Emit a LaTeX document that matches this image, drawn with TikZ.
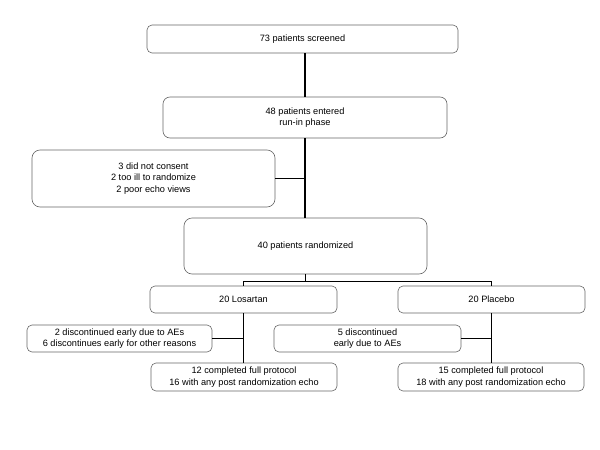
\documentclass[tikz,border=0pt]{standalone}
\usepackage{fontspec}
\setmainfont{Liberation Sans}
\usepackage{xcolor}
\usetikzlibrary{positioning,calc}

\begin{document}
\begin{tikzpicture}[x=1pt, y=-1pt,
    stage/.style={rectangle, rounded corners=5pt, draw=black!60, line width=0.6pt, align=center, inner sep=0pt, font=\fontsize{9.2}{11.3}\selectfont},
    flow/.style={draw=black, line width=1.3pt}]

    \useasboundingbox (0,0) rectangle (600,450);

    % Nodes
    \node[stage, minimum width=311pt, minimum height=28pt] (screened) at (302.5,39) {73 patients screened};
    \node[stage, rounded corners=7pt, minimum width=284pt, minimum height=41pt] (runin) at (305,117.5) {48 patients entered\\run-in phase};
    \node[stage, rounded corners=8pt, minimum width=243pt, minimum height=57pt] (excluded) at (153.5,178.5) {3 did not consent\\2 too ill to randomize\\2 poor echo views};
    \node[stage, rounded corners=8pt, minimum width=243pt, minimum height=56pt] (randomized) at (305.5,246) {40 patients randomized};
    \node[stage, minimum width=187pt, minimum height=27pt] (losartan) at (243.5,299.5) {20 Losartan};
    \node[stage, minimum width=187pt, minimum height=27pt] (placebo) at (491.5,299.5) {20 Placebo};
    \node[stage, minimum width=185pt, minimum height=27pt] (losdrop) at (119.5,338.5) {2 discontinued early due to AEs\\6 discontinues early for other reasons};
    \node[stage, minimum width=187pt, minimum height=27pt] (pladrop) at (367.5,338.5) {5 discontinued\\early due to AEs};
    \node[stage, minimum width=186pt, minimum height=28pt] (losdone) at (244,377) {12 completed full protocol\\16 with any post randomization echo};
    \node[stage, minimum width=186pt, minimum height=28pt] (pladone) at (491,377) {15 completed full protocol\\18 with any post randomization echo};

    % Connections
    \draw[flow] (runin.north) -- (runin.north |- screened.south);
    \draw[flow] (runin.south) -- (runin.south |- randomized.north);
    \draw[flow] (excluded.east) -- (excluded.east -| runin.south);
    \coordinate (split) at ($(randomized.south)+(0,7)$);
    \draw[flow] (randomized.south) -- (split);
    \draw[flow] (losartan.north) |- (split) -| (placebo.north);
    \draw[flow] (losartan.south) -- (losartan.south |- losdone.north);
    \draw[flow] (losdrop.east) -- (losdrop.east -| losartan.south);
    \draw[flow] (placebo.south) -- (placebo.south |- pladone.north);
    \draw[flow] (pladrop.east) -- (pladrop.east -| placebo.south);

\end{tikzpicture}
\end{document}
